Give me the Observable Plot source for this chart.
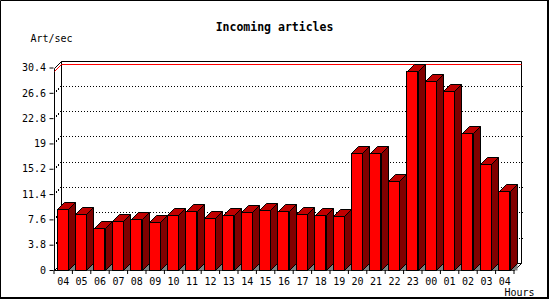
<!DOCTYPE html>
<html><head><meta charset="utf-8">
<script src="https://cdn.jsdelivr.net/npm/d3@7"></script>
<script src="https://cdn.jsdelivr.net/npm/@observablehq/plot@0.6"></script>
<style>
html,body{margin:0;padding:0;background:#fff}
svg{display:block}
</style></head><body><div id="chart"></div>
<script>
const title = "Incoming articles";
const yLabel = "Art/sec";
const xLabel = "Hours";
const hours = ["04","05","06","07","08","09","10","11","12","13","14","15","16","17","18","19","20","21","22","23","00","01","02","03","04"];
const values = [9.1,8.4,6.25,7.3,7.6,7.15,8.25,8.8,7.75,8.25,8.65,8.95,8.8,8.4,8.25,8.1,17.5,17.5,13.3,29.8,28.3,26.8,20.5,15.9,11.8];
const yTicks = [0,3.8,7.6,11.4,15.2,19,22.8,26.6,30.4];

const yMax = yTicks[yTicks.length - 1];
const maxValue = d3.max(values);
const data = values.map((v, i) => ({i, hour: hours[i], v}));
const N = hours.length;
const D = 7;          // depth of the 3D effect, px
const insL = 3.5, insR = 3.9;
const MONO = "DejaVu Sans Mono";

// walls, floor and gridlines of the 3D box
function box(index, scales) {
  const {x, y} = scales;
  const g = d3.create("svg:g");
  const x0 = Math.round(x(0)) + 0.5, x1 = Math.round(x(N)) + 0.5;
  const y0 = Math.round(y(0)) + 0.5, yT = Math.round(y(yMax)) + 0.5;
  g.append("path").attr("d", `M${x0 + D},${yT - D}H${x1 + D}V${y0 - D}H${x0 + D}Z`)
    .attr("fill", "white").attr("stroke", "black");
  g.append("path").attr("d", `M${x0},${y0}V${yT}L${x0 + D},${yT - D}V${y0 - D}Z`)
    .attr("fill", "white").attr("stroke", "black");
  g.append("path").attr("d", `M${x0},${y0}H${x1}L${x1 + D},${y0 - D}H${x0 + D}Z`)
    .attr("fill", "white").attr("stroke", "black");
  for (const t of yTicks.slice(1, -1)) {
    const yy = Math.round(y(t)) + 0.5;
    g.append("path").attr("d", `M${x0 - 0.5},${yy}L${x0 + D - 0.5},${yy - D}H${x1 + D + 1.5}`)
      .attr("fill", "none").attr("stroke", "black").attr("stroke-dasharray", "1,2")
      .attr("shape-rendering", "crispEdges");
  }
  const ym = Math.round(y(maxValue)) + 0.5;
  g.append("path").attr("d", `M${x0},${ym}L${x0 + D},${ym - D}H${x1 + D}`)
    .attr("fill", "none").attr("stroke", "red");
  return g.node();
}

// side and top faces of the bars, plus floor shadow triangles
function faces(index, scales) {
  const {x, y} = scales;
  const g = d3.create("svg:g").attr("stroke", "black").attr("stroke-linejoin", "miter");
  const y0 = Math.round(y(0)) + 0.5;
  for (const d of data) {
    const xl = Math.round(x(d.i) + insL) + 0.5;
    const xr = Math.round(x(d.i + 1) - insR) + 0.5;
    const yv = Math.round(y(d.v)) + 0.5;
    g.append("path").attr("d", `M${xr},${y0}L${xr + D},${y0 - D}V${y0}Z`)
      .attr("fill", "#808080").attr("stroke", "none");
    g.append("path").attr("d", `M${xr},${y0}V${yv}L${xr + D},${yv - D}V${y0 - D}Z`)
      .attr("fill", "#800000");
    g.append("path").attr("d", `M${xl},${yv}L${xl + D},${yv - D}H${xr + D}L${xr},${yv}Z`)
      .attr("fill", "#c00000");
  }
  return g.node();
}

function border(index, scales, values, dims) {
  const g = d3.create("svg:g").attr("fill", "none").attr("stroke", "black");
  g.append("path").attr("d", `M0.5,${dims.height - 2}V0.5H${dims.width - 2}`);
  g.append("path").attr("d", `M${dims.width - 2},0V${dims.height - 2}H0`).attr("stroke-width", 2);
  return g.node();
}

const chart = Plot.plot({
  width: 550,
  height: 300,
  marginLeft: 53.5,
  marginRight: 36.5,
  marginTop: 67.5,
  marginBottom: 30,
  style: {fontFamily: MONO, fontSize: "10px", background: "white", color: "black"},
  x: {domain: [0, N], axis: null},
  y: {domain: [0, yMax], axis: null},
  marks: [
    box,
    faces,
    Plot.rectY(data, {x1: "i", x2: d => d.i + 1, y: "v", insetLeft: insL, insetRight: insR,
      fill: "#ff0000", stroke: "black", shapeRendering: "crispEdges"}),
    Plot.axisY(yTicks, {tickSize: 4, tickPadding: 4, tickFormat: d => String(d), label: null,
      fontSize: 10}),
    Plot.axisX(d3.range(N + 1), {tickSize: 4, tickFormat: () => "", label: null}),
    Plot.axisX(d3.range(N).map(i => i + 0.5), {tickSize: 0, tickPadding: 7,
      tickFormat: d => hours[Math.round(d - 0.5)], label: null, fontSize: 10}),
    Plot.text([title], {frameAnchor: "top", dx: -9.5, dy: -37, lineAnchor: "bottom",
      fontWeight: "bold", fontSize: 11.5}),
    Plot.text([yLabel], {frameAnchor: "top-left", textAnchor: "start", dx: -23.5, dy: -26.5,
      lineAnchor: "bottom"}),
    Plot.text([xLabel], {frameAnchor: "bottom-right", textAnchor: "start", dx: -9.5, dy: 25.5,
      lineAnchor: "bottom"}),
    border
  ]
});
document.getElementById("chart").appendChild(chart);
</script></body></html>
